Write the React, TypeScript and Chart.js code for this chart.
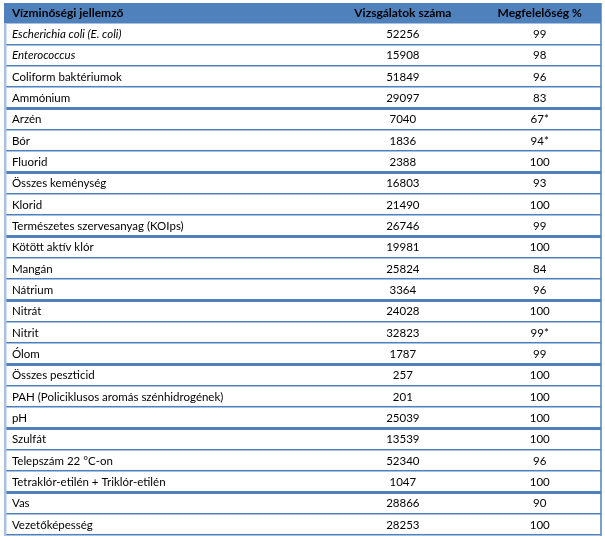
import React, { useEffect, useRef } from 'react';
import { Chart, registerables } from 'chart.js';

Chart.register(...registerables);

const headers = ['Vízminőségi jellemző', 'Vizsgálatok száma', 'Megfelelőség %'];

const features = [
  'Escherichia coli (E. coli)',
  'Enterococcus',
  'Coliform baktériumok',
  'Ammónium',
  'Arzén',
  'Bór',
  'Fluorid',
  'Összes keménység',
  'Klorid',
  'Természetes szervesanyag (KOIps)',
  'Kötött aktív klór',
  'Mangán',
  'Nátrium',
  'Nitrát',
  'Nitrit',
  'Ólom',
  'Összes peszticid',
  'PAH (Policiklusos aromás szénhidrogének)',
  'pH',
  'Szulfát',
  'Telepszám 22 °C-on',
  'Tetraklór-etilén + Triklór-etilén',
  'Vas',
  'Vezetőképesség',
];

const testCounts = [
  52256, 15908, 51849, 29097, 7040, 1836, 2388, 16803, 21490, 26746, 19981, 25824,
  3364, 24028, 32823, 1787, 257, 201, 25039, 13539, 52340, 1047, 28866, 28253,
];

const compliance = [
  '99', '98', '96', '83', '67*', '94*', '100', '93', '100', '99', '100', '84',
  '96', '100', '99*', '99', '100', '100', '100', '100', '96', '100', '90', '100',
];

const italicRows = [0, 1];
const groupStarts = [4, 7, 10, 13, 16, 19, 22];

const BLUE = '#4f81bd';
const LIGHT = '#a9c1e1';
const FONT = 'Lato, "Open Sans", sans-serif';
const COL_NAME = 1;
const COL_COUNT = 66.7;
const COL_PCT = 89.7;

const tablePlugin = {
  id: 'tablePlugin',
  beforeDraw(chart: any) {
    const { ctx, chartArea } = chart;
    const x = chart.scales.x;
    ctx.save();
    ctx.fillStyle = '#ffffff';
    ctx.fillRect(0, 0, chart.width, chart.height);
    ctx.fillStyle = BLUE;
    ctx.fillRect(chartArea.left - 2, 3, chartArea.right - chartArea.left + 2, chartArea.top - 3);
    ctx.fillStyle = '#000000';
    ctx.font = `bold 12px ${FONT}`;
    ctx.textBaseline = 'middle';
    const hy = (3 + chartArea.top) / 2 + 0.5;
    ctx.textAlign = 'left';
    ctx.fillText(headers[0], x.getPixelForValue(COL_NAME), hy);
    ctx.textAlign = 'center';
    ctx.fillText(headers[1], x.getPixelForValue(COL_COUNT), hy);
    ctx.fillText(headers[2], x.getPixelForValue(COL_PCT), hy);
    ctx.restore();
  },
  afterDatasetsDraw(chart: any) {
    const { ctx } = chart;
    const x = chart.scales.x;
    const y = chart.scales.y;
    ctx.save();
    ctx.fillStyle = '#000000';
    ctx.textBaseline = 'middle';
    features.forEach((f, i) => {
      ctx.font = `${italicRows.includes(i) ? 'italic ' : ''}11.5px ${FONT}`;
      ctx.textAlign = 'left';
      ctx.fillText(f, x.getPixelForValue(COL_NAME), y.getPixelForValue(i) + 0.5);
    });
    ctx.font = `11.5px ${FONT}`;
    ctx.textAlign = 'center';
    chart.data.datasets.forEach((ds: any, di: number) => {
      const meta = chart.getDatasetMeta(di);
      meta.data.forEach((el: any, i: number) => {
        ctx.fillText(String(ds.labels[i]), el.x, el.y + 0.5);
      });
    });
    ctx.restore();
  },
  afterDraw(chart: any) {
    const { ctx, chartArea } = chart;
    ctx.save();
    ctx.fillStyle = LIGHT;
    ctx.fillRect(chartArea.left - 2, chartArea.top, 2.5, chartArea.bottom - chartArea.top + 1);
    ctx.strokeStyle = BLUE;
    ctx.lineWidth = 1.5;
    ctx.beginPath();
    ctx.moveTo(chartArea.right, 3);
    ctx.lineTo(chartArea.right, chartArea.bottom + 0.75);
    ctx.stroke();
    ctx.restore();
  },
};

export default function App() {
  const ref = useRef<HTMLCanvasElement>(null);
  useEffect(() => {
    document.body.style.margin = '0';
    const chart = new Chart(ref.current as HTMLCanvasElement, {
      type: 'line',
      data: {
        datasets: [
          {
            label: headers[1],
            data: features.map((f) => ({ x: COL_COUNT, y: f })) as any,
            labels: testCounts,
            showLine: false,
            pointRadius: 0,
          } as any,
          {
            label: headers[2],
            data: features.map((f) => ({ x: COL_PCT, y: f })) as any,
            labels: compliance,
            showLine: false,
            pointRadius: 0,
          } as any,
        ],
      },
      options: {
        animation: false,
        responsive: false,
        events: [],
        layout: { padding: { left: 6, right: 4, top: 23, bottom: 6 } },
        plugins: { legend: { display: false }, tooltip: { enabled: false } },
        scales: {
          x: { type: 'linear', min: 0, max: 100, display: false },
          y: {
            type: 'category',
            labels: features,
            offset: true,
            ticks: { display: false },
            border: { display: false },
            grid: {
              offset: true,
              drawTicks: false,
              color: BLUE,
              lineWidth: (c: any) => (groupStarts.includes(c.index) ? 3 : 1.5),
            },
          },
        },
      },
      plugins: [tablePlugin],
    });
    return () => chart.destroy();
  }, []);
  return (
    <div style={{ position: 'absolute', left: 0, top: 0, width: 605, height: 541 }}>
      <canvas ref={ref} width={605} height={541} />
    </div>
  );
}
